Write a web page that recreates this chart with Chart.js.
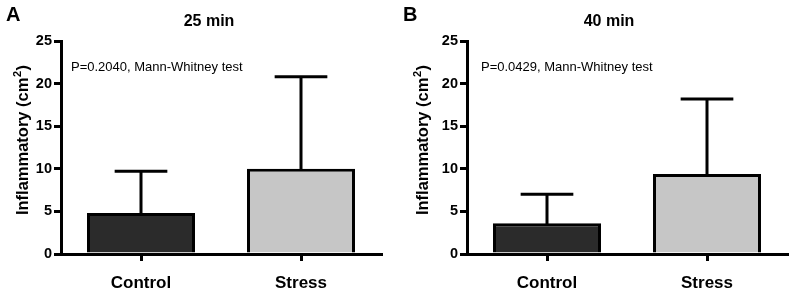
<!DOCTYPE html>
<html>
<head>
<meta charset="utf-8">
<title>Inflammatory area</title>
<script src="https://cdn.jsdelivr.net/npm/chart.js@4.4.1/dist/chart.umd.min.js"></script>
<style>
  body { margin: 0; background: #fff; }
  #wrap { position: relative; width: 793px; height: 294px; }
  canvas { position: absolute; top: 0; }
</style>
</head>
<body>
<div id="wrap">
  <canvas id="chartA" width="400" height="294" style="left:0px"></canvas>
  <canvas id="chartB" width="393" height="294" style="left:400px"></canvas>
</div>
<script>
const groups = ['Control', 'Stress'];

const mean25 = [4.8, 10.0];
const sd25 = [4.9, 10.8];

const mean40 = [3.6, 9.4];
const sd40 = [3.4, 8.8];

const yMin = 0;
const yMax = 25;
const yStep = 5;

const barColors = ['#2b2b2b', '#c6c6c6'];
const font = '"Liberation Sans", Arial, Helvetica, sans-serif';

// only the upper half of the error bar, prism style
const errorBars = {
    id: 'errorBars',
    afterDatasetsDraw(chart, args, opts) {
        let ctx = chart.ctx;
        let y = chart.scales.y;
        let meta = chart.getDatasetMeta(0);
        ctx.save();
        ctx.strokeStyle = '#000';
        ctx.lineWidth = 3;
        ctx.lineCap = 'square';
        meta.data.forEach(function (bar, i) {
            let value = chart.data.datasets[0].data[i];
            let top = y.getPixelForValue(value + opts.sd[i]);
            let cap = bar.width * 0.23;
            ctx.beginPath();
            ctx.moveTo(bar.x, bar.y);
            ctx.lineTo(bar.x, top);
            ctx.moveTo(bar.x - cap, top);
            ctx.lineTo(bar.x + cap, top);
            ctx.stroke();
        });
        ctx.restore();
    }
};

// panel letter, title, the test result and the y title (needs a real superscript)
const panelText = {
    id: 'panelText',
    afterDraw(chart, args, opts) {
        let ctx = chart.ctx;
        let area = chart.chartArea;
        ctx.save();
        ctx.fillStyle = '#000';
        ctx.textBaseline = 'alphabetic';
        ctx.textAlign = 'left';
        ctx.font = 'bold 20px ' + font;
        ctx.fillText(opts.letter, opts.letterX, 21);
        ctx.textAlign = 'center';
        ctx.font = 'bold 16px ' + font;
        ctx.fillText(opts.title, opts.titleX, 26);
        ctx.textAlign = 'left';
        ctx.font = '13px ' + font;
        ctx.fillText(opts.note, area.left + opts.noteX, chart.scales.y.getPixelForValue(21.5));

        let mainFont = 'bold 16.5px ' + font;
        let supFont = 'bold 11px ' + font;
        let partA = 'Inflammatory (cm';
        let partB = '2';
        let partC = ')';
        ctx.font = mainFont;
        let wA = ctx.measureText(partA).width;
        let wC = ctx.measureText(partC).width;
        ctx.font = supFont;
        let wB = ctx.measureText(partB).width + 1;
        let total = wA + wB + wC;
        ctx.translate(28, 140);
        ctx.rotate(-Math.PI / 2);
        let x = -total / 2;
        ctx.font = mainFont;
        ctx.fillText(partA, x, 0);
        ctx.font = supFont;
        ctx.fillText(partB, x + wA + 0.5, -7);
        ctx.font = mainFont;
        ctx.fillText(partC, x + wA + wB, 0);
        ctx.restore();
    }
};

function makeChart(id, means, sds, panel) {
    let ctx = document.getElementById(id).getContext('2d');
    return new Chart(ctx, {
        type: 'bar',
        data: {
            labels: groups,
            datasets: [{
                data: means,
                backgroundColor: barColors,
                borderColor: '#000',
                borderWidth: 3,
                categoryPercentage: 1,
                barPercentage: 0.675
            }]
        },
        plugins: [errorBars, panelText],
        options: {
            responsive: false,
            animation: false,
            devicePixelRatio: 1,
            layout: {
                padding: { top: 41, right: panel.rightPad, bottom: 0, left: 0 }
            },
            plugins: {
                legend: { display: false },
                tooltip: { enabled: false },
                errorBars: { sd: sds },
                panelText: panel
            },
            scales: {
                x: {
                    grid: {
                        offset: false,
                        drawOnChartArea: false,
                        drawTicks: true,
                        tickLength: 7,
                        color: '#000',
                        lineWidth: 3
                    },
                    border: { display: true, color: '#000', width: 3 },
                    ticks: {
                        color: '#000',
                        padding: 12,
                        font: { family: font, size: 17, weight: 'bold' }
                    },
                    afterFit: function (scale) { scale.height = 40; }
                },
                y: {
                    min: yMin,
                    max: yMax,
                    grid: {
                        drawOnChartArea: false,
                        drawTicks: true,
                        tickLength: 7,
                        color: '#000',
                        lineWidth: 3
                    },
                    border: { display: true, color: '#000', width: 3 },
                    ticks: {
                        stepSize: yStep,
                        color: '#000',
                        padding: 2,
                        font: { family: font, size: 14.5, weight: 'bold' }
                    },
                    afterFit: function (scale) { scale.width = panel.yWidth; }
                }
            }
        }
    });
}

makeChart('chartA', mean25, sd25, {
    letter: 'A', letterX: 6, title: '25 min', titleX: 209,
    note: 'P=0.2040, Mann-Whitney test', noteX: 10,
    yWidth: 61, rightPad: 19
});

makeChart('chartB', mean40, sd40, {
    letter: 'B', letterX: 3, title: '40 min', titleX: 209,
    note: 'P=0.0429, Mann-Whitney test', noteX: 14,
    yWidth: 67, rightPad: 6
});
</script>
</body>
</html>
